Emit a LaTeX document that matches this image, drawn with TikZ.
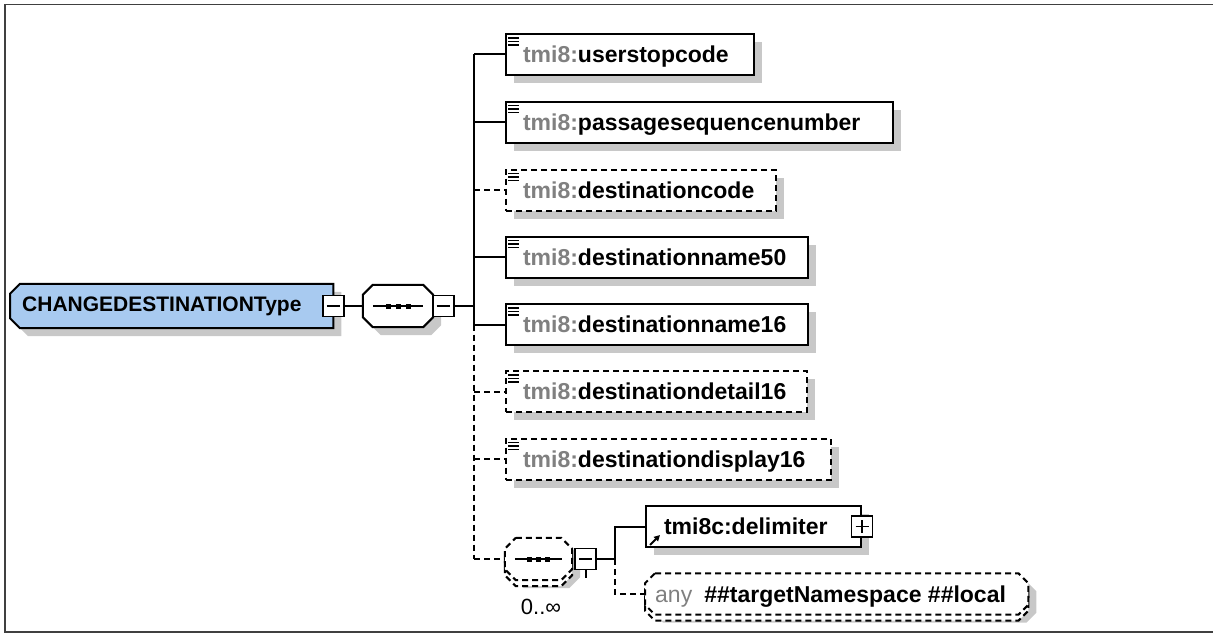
\documentclass[tikz,border=0pt]{standalone}
\usepackage{fontspec}
\setmainfont{Liberation Sans}
\usetikzlibrary{calc,shadows,backgrounds,arrows.meta}
\definecolor{typeblue}{RGB}{168,202,240}
\definecolor{shadowgray}{RGB}{200,200,200}
\definecolor{nsgray}{RGB}{128,128,128}
\newcommand{\elfont}{\fontsize{23}{23}\selectfont\bfseries}
\newcommand{\typefont}{\fontsize{21}{21}\selectfont\bfseries}
\newcommand{\el}[2]{\makebox[#1pt][l]{\textcolor{nsgray}{tmi8:}#2}}
% octagon round a node: node, chamfer, path options
\newcommand{\octo}[3]{\path[#3] ($(#1.north west)+(#2,0)$) -- ($(#1.north east)+(-#2,0)$)
  -- ($(#1.north east)+(0,#2)$) -- ($(#1.south east)+(0,-#2)$) -- ($(#1.south east)+(-#2,0)$)
  -- ($(#1.south west)+(#2,0)$) -- ($(#1.south west)+(0,-#2)$) -- ($(#1.north west)+(0,#2)$) -- cycle;}
% box cut on the left side only
\newcommand{\lefttag}[3]{\path[#3] ($(#1.north west)+(#2,0)$) -- (#1.north east) -- (#1.south east)
  -- ($(#1.south west)+(#2,0)$) -- ($(#1.south west)+(0,-#2)$) -- ($(#1.north west)+(0,#2)$) -- cycle;}
\newcommand{\simpleicon}[1]{\foreach \d in {5,8.5,12}
  {\draw[icon] ([xshift=3pt,yshift=-\d pt]#1.north west) -- ++(11,0);}}
\tikzset{
  conn/.style={line width=2pt},
  opt/.style={dash pattern=on 6pt off 4pt},
  icon/.style={line width=1.6pt},
  elem/.style={draw, fill=white, line width=2pt, anchor=west, minimum height=41pt,
    inner xsep=17pt, inner ysep=0pt, text height=18pt, text depth=2pt, font=\elfont,
    drop shadow={shadow xshift=8pt, shadow yshift=-8pt, opacity=1, fill=shadowgray, draw=none}},
  optelem/.style={elem, opt},
  minusbox/.style={draw, fill=white, line width=1.8pt, minimum size=21pt, inner sep=0pt,
    path picture={\draw[line width=1.8pt] ([xshift=4pt]path picture bounding box.west)
      -- ([xshift=-4pt]path picture bounding box.east);}},
  plusbox/.style={draw, fill=white, line width=1.8pt, minimum size=21pt, inner sep=0pt,
    path picture={\draw[line width=1.8pt] ([xshift=4pt]path picture bounding box.west)
      -- ([xshift=-4pt]path picture bounding box.east)
      ([yshift=-4pt]path picture bounding box.north) -- ([yshift=4pt]path picture bounding box.south);}},
}

\begin{document}
\begin{tikzpicture}[x=1pt, y=-1pt]
\useasboundingbox (0,0) rectangle (1213,634);
\draw[black!75, line width=1.5pt] (5,4.5) rectangle (1230,632);

% complex type and its sequence
\node[anchor=west, minimum width=323pt, minimum height=44pt, inner xsep=12pt, font=\typefont] (type) at (10,306)
  {\makebox[299pt][l]{CHANGEDESTINATIONType}};
\node[minusbox] (tminus) at (type.east) {};
\node[minimum width=70pt, minimum height=42pt] (seq) at (398,306) {};
\node[minusbox] (sminus) at ([xshift=10pt]seq.east) {};
\draw[conn] ([xshift=10pt]seq.west) -- ([xshift=-10pt]seq.east);
\foreach \x in {-10,0,10}
  \fill ($(seq.center)+(\x-2.5,-2.5)$) rectangle ++(5,5);

% children
\node[elem] (e1) at (505,54.5) {\el{214}{userstopcode}};
\node[elem] (e2) at (505,122) {\el{353}{passagesequencenumber}};
\node[optelem] (e3) at (505,190) {\el{236}{destinationcode}};
\node[elem] (e4) at (505,257) {\el{268}{destinationname50}};
\node[elem] (e5) at (505,324.5) {\el{268}{destinationname16}};
\node[optelem] (e6) at (505,391.5) {\el{267}{destinationdetail16}};
\node[optelem] (e7) at (505,459) {\el{291}{destinationdisplay16}};
\foreach \n in {e1,e2,e3,e4,e5,e6,e7}
  {\simpleicon{\n}}

% inner sequence, 0..oo
\node[minimum width=67pt, minimum height=42pt] (seqb) at (538.5,559) {};
\draw[conn] ([xshift=10pt]seqb.west) -- ([xshift=-10pt]seqb.east);
\foreach \x in {-9,0,9}
  \fill ($(seqb.center)+(\x-2.5,-2.5)$) rectangle ++(5,5);
\node[minusbox] (bminus) at (585.5,559) {};
\node[font=\fontsize{22}{22}\selectfont] (occ) at (541,607) {0..∞};
\node[elem, inner xsep=18pt] (delim) at (645,526.5) {\makebox[179pt][l]{tmi8c:delimiter}};
\node[plusbox] (dplus) at (delim.east) {};
\draw[line width=1.8pt, -{Triangle[length=6pt,width=6pt]}] ([xshift=5pt,yshift=3pt]delim.south west) -- ++(10,-10);
\node[anchor=west, minimum width=383pt, minimum height=41pt, inner xsep=10pt, inner ysep=0pt,
  text height=18pt, text depth=2pt, font=\elfont] (anyb) at (645,594)
  {\makebox[363pt][l]{\textcolor{nsgray}{\mdseries any}\hspace{12pt}\#\#targetNamespace \#\#local}};

% connectors
\coordinate (b0) at (474,306);
\coordinate (b1) at (474,54.5);
\coordinate (b2) at (474,122);
\coordinate (b3) at (474,190);
\coordinate (b4) at (474,257);
\coordinate (b5) at (474,324.5);
\coordinate (b6) at (474,391.5);
\coordinate (b7) at (474,459);
\coordinate (b8) at (474,559);
\coordinate (fork) at (615,559);
\draw[conn] (tminus.east) -- (seq.west);
\draw[conn] (sminus.east) -- (b0);
\draw[conn] (b1) -- (b5);
\draw[conn,opt] (b5) -- (b8);
\draw[conn] (b1) -- (e1.west);
\draw[conn] (b2) -- (e2.west);
\draw[conn,opt] (b3) -- (e3.west);
\draw[conn] (b4) -- (e4.west);
\draw[conn] (b5) -- (e5.west);
\draw[conn,opt] (b6) -- (e6.west);
\draw[conn,opt] (b7) -- (e7.west);
\draw[conn,opt] (b8) -- (seqb.west);
\draw[conn] (bminus.east) -- (fork) |- (delim.west);
\draw[conn,opt] (fork) |- (anyb.west);
\draw[conn] (bminus.south) -- ++(0,8);

\begin{pgfonlayer}{background}
  \lefttag{type}{10}{fill=shadowgray, transform canvas={xshift=8pt,yshift=-8pt}}
  \lefttag{type}{10}{conn, draw, fill=typeblue}
  \octo{seq}{10}{fill=shadowgray, transform canvas={xshift=8pt,yshift=-8pt}}
  \octo{seq}{10}{conn, draw, fill=white}
  \octo{seqb}{11}{fill=shadowgray, transform canvas={xshift=8pt,yshift=-8pt}}
  \octo{seqb}{11}{conn, opt, draw, fill=white, transform canvas={yshift=-6pt}}
  \octo{seqb}{11}{conn, opt, draw, fill=white}
  \octo{anyb}{10}{fill=shadowgray, transform canvas={xshift=8pt,yshift=-8pt}}
  \octo{anyb}{10}{conn, opt, draw, fill=white, transform canvas={yshift=-6pt}}
  \octo{anyb}{10}{conn, opt, draw, fill=white}
\end{pgfonlayer}
\end{tikzpicture}
\end{document}
